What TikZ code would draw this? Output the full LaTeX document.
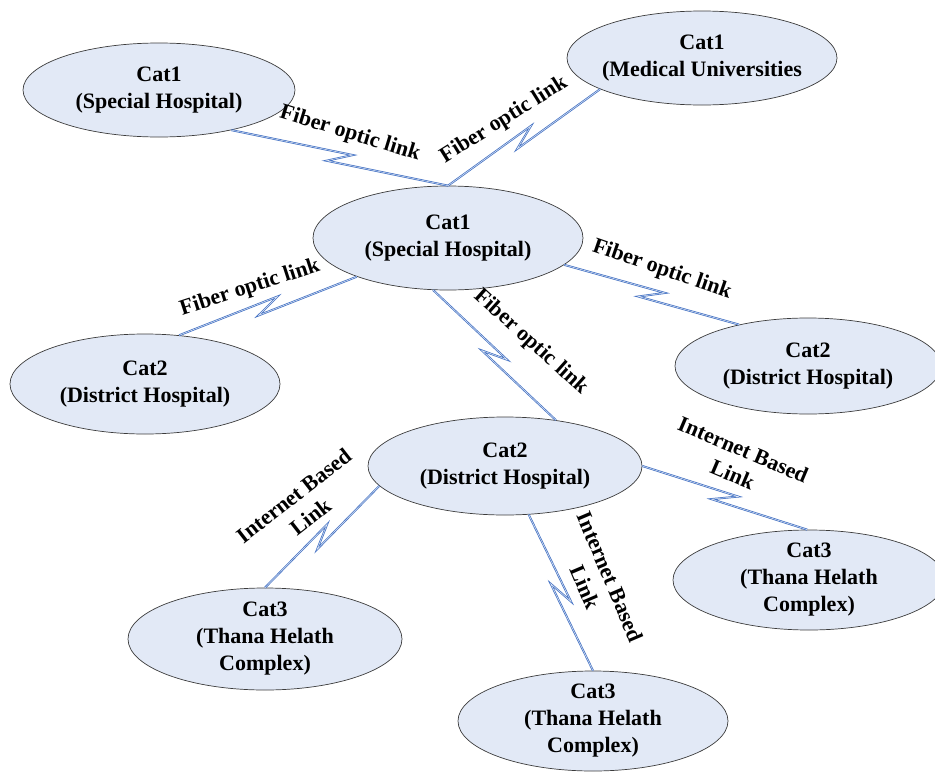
\documentclass[tikz,border=0pt]{standalone}
\usepackage{fontspec}
\setmainfont{Liberation Serif}
\usepackage{tikz}
\usetikzlibrary{shapes.geometric, calc}
\definecolor{sitefill}{RGB}{226,233,246}
\definecolor{siteline}{RGB}{60,60,60}
\definecolor{linkblue}{RGB}{68,114,196}

\tikzset{
  site/.style={ellipse, draw=siteline, line width=0.7pt, fill=sitefill,
               minimum width=270pt, minimum height=100pt, inner sep=0pt},
  sitetext/.style={font=\fontsize{22}{27}\selectfont\bfseries, align=center},
  link/.style={draw=linkblue, line width=0.75pt, double=white!85!linkblue,
               double distance=0.5pt, line join=miter},
  linklabel/.style={font=\fontsize{22}{27}\selectfont\bfseries, align=center, inner sep=0pt}
}
% zig-zag link between two anchors
\newcommand{\boltlink}[2]{%
  \draw[link] (#1) -- ($(#1)!0.5!(#2)!12pt!(#2)!6pt!90:(#2)$)
    -- ($(#1)!0.5!(#2)!-12pt!(#2)!6pt!-90:(#2)$) -- (#2);}

\begin{document}
\begin{tikzpicture}[x=1pt, y=-1pt]
  \useasboundingbox (0,0) rectangle (935,774);

  % sites
  \node[site, minimum width=272pt, minimum height=94pt,
        label={[sitetext]center:{Cat1\\(Special Hospital)}}] (spTL) at (159,90) {};
  \node[site, minimum height=94pt,
        label={[sitetext]center:{Cat1\\(Medical Universities}}] (muTR) at (702,58) {};
  \node[site, minimum height=104pt,
        label={[sitetext]center:{Cat1\\(Special Hospital)}}] (spC) at (448,238) {};
  \node[site,
        label={[sitetext]center:{Cat2\\(District Hospital)}}] (dhL) at (145,384) {};
  \node[site, minimum width=266pt, minimum height=96pt,
        label={[sitetext]center:{Cat2\\(District Hospital)}}] (dhR) at (808,366) {};
  \node[site, minimum width=274pt, minimum height=98pt,
        label={[sitetext]center:{Cat2\\(District Hospital)}}] (dhC) at (505,466) {};
  \node[site, minimum width=274pt, minimum height=102pt,
        label={[sitetext]center:{Cat3\\(Thana Helath\\Complex)}}] (thBL) at (265,639) {};
  \node[site, minimum width=272pt,
        label={[sitetext]center:{Cat3\\(Thana Helath\\Complex)}}] (thBR) at (809,580) {};
  \node[site,
        label={[sitetext]center:{Cat3\\(Thana Helath\\Complex)}}] (thB) at (593,721) {};

  % links
  \boltlink{spTL.-29}{spC.90}
  \boltlink{muTR.-163}{spC.90}
  \boltlink{spC.-157}{dhL.55}
  \boltlink{spC.-13}{dhR.149}
  \boltlink{spC.-106}{dhC.42}
  \boltlink{dhC.-171}{thBL.90}
  \boltlink{dhC.-64}{thB.90}
  \boltlink{dhC.0}{thBR.92}

  % link labels
  \node[linklabel, rotate=-17] (fibA) at (350,134) {Fiber optic link};
  \node[linklabel, rotate=32] (fibB) at (504,120) {Fiber optic link};
  \node[linklabel, rotate=18] (fibC) at (250,288) {Fiber optic link};
  \node[linklabel, rotate=-19] (fibD) at (662,270) {Fiber optic link};
  \node[linklabel, rotate=-42] (fibE) at (531,342) {Fiber optic link};
  \node[linklabel, rotate=38] (netA) at (302,506) {Internet Based\\Link};
  \node[linklabel, rotate=-23] (netB) at (738,462) {Internet Based\\Link};
  \node[linklabel, rotate=-67] (netC) at (598,582) {Internet Based\\Link};
\end{tikzpicture}
\end{document}
